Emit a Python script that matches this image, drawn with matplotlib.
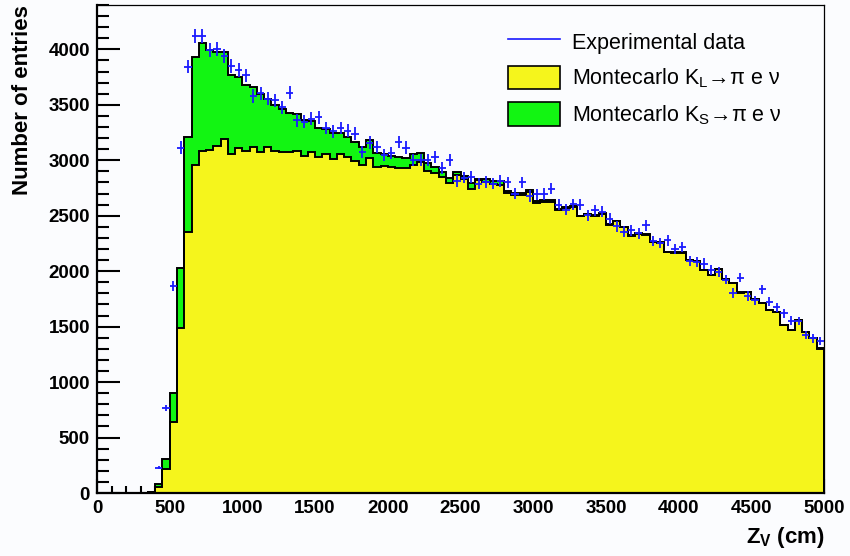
import numpy as np
import matplotlib
matplotlib.use("Agg")
import matplotlib.pyplot as plt
from matplotlib.lines import Line2D
from matplotlib.patches import Patch

plt.rcParams['font.family'] = ['Liberation Sans', 'DejaVu Sans']
plt.rcParams['mathtext.fontset'] = 'custom'
plt.rcParams['mathtext.rm'] = 'Liberation Sans'
plt.rcParams['mathtext.it'] = 'Liberation Sans:italic'
plt.rcParams['mathtext.bf'] = 'Liberation Sans:bold'

# ---- data (bins of 50 cm from 0 to 5000 cm) ----
bin_lo = 0
bin_hi = 5000
bin_width = 50

mc_KL = [0, 0, 0, 0, 0, 0, 0, 8, 51, 213,
         637, 1484, 2350, 2961, 3084, 3090, 3126, 3195, 3060, 3111,
         3084, 3117, 3078, 3120, 3084, 3075, 3072, 3087, 3040, 3078,
         3033, 3060, 3010, 3057, 3033, 2990, 2960, 3025, 2940, 2950,
         2940, 2930, 2928, 2960, 2980, 2900, 2883, 2853, 2793, 2865,
         2828, 2745, 2820, 2805, 2787, 2780, 2706, 2691, 2686, 2712,
         2619, 2625, 2625, 2552, 2570, 2576, 2494, 2512, 2498, 2519,
         2417, 2448, 2394, 2319, 2334, 2329, 2259, 2255, 2169, 2165,
         2166, 2101, 2091, 2008, 1966, 2020, 1931, 1892, 1805, 1813,
         1747, 1712, 1649, 1631, 1516, 1467, 1557, 1452, 1398, 1302]

mc_KS = [0, 0, 0, 0, 0, 0, 0, 4, 27, 90,
         261, 549, 860, 967, 974, 900, 846, 777, 706, 640,
         592, 547, 517, 435, 414, 385, 358, 333, 320, 274,
         257, 220, 240, 189, 177, 175, 160, 155, 130, 110,
         95, 100, 94, 95, 88, 73, 57, 40, 51, 33,
         32, 48, 15, 23, 28, 34, 14, 17, 17, 24,
         18, 15, 13, 13, 10, 9, 8, 8, 7, 7,
         7, 6, 6, 6, 6, 5, 5, 5, 5, 5,
         4, 4, 4, 4, 4, 4, 3, 3, 3, 3,
         3, 3, 3, 3, 2, 2, 2, 2, 2, 2]

data = [0, 0, 0, 0, 0, 0, 0, 0, 228, 768,
        1868, 3114, 3845, 4120, 4120, 3991, 4003, 3938, 3848, 3811,
        3765, 3580, 3604, 3556, 3541, 3478, 3610, 3360, 3348, 3375,
        3386, 3290, 3262, 3290, 3266, 3240, 3075, 3160, 3120, 3045,
        3066, 3165, 3114, 3000, 3006, 3000, 3027, 2930, 3006, 2812,
        2844, 2850, 2790, 2805, 2790, 2812, 2800, 2700, 2800, 2680,
        2692, 2697, 2745, 2600, 2556, 2604, 2601, 2505, 2550, 2535,
        2475, 2406, 2355, 2370, 2340, 2415, 2273, 2255, 2279, 2200,
        2219, 2093, 2084, 2069, 2009, 1994, 1925, 1805, 1943, 1775,
        1739, 1835, 1724, 1673, 1619, 1553, 1550, 1424, 1394, 1373]

legend_labels = ["Experimental data",
                 r"Montecarlo K$_\mathregular{L}$→π e ν",
                 r"Montecarlo K$_\mathregular{S}$→π e ν"]

# ---- figure ----
W, H = 850, 556
bg = '#fbfcfe'
fig = plt.figure(figsize=(W / 100, H / 100), dpi=100, facecolor=bg)
ax = fig.add_axes([97 / W, 63 / H, 727 / W, 488 / H])
ax.set_facecolor(bg)

edges = np.arange(bin_lo, bin_hi + bin_width, bin_width)
kl = np.array(mc_KL, float)
ks = np.array(mc_KS, float)
tot = kl + ks
d = np.array(data, float)

yellow = '#f5f51c'
green = '#12f512'

ax.stairs(tot, edges, fill=True, color=green, zorder=1)
ax.stairs(kl, edges, fill=True, color=yellow, zorder=2)
ax.stairs(tot, edges, color='black', lw=1.4, zorder=3)
ax.stairs(kl, edges, color='black', lw=1.4, zorder=3)

centers = edges[:-1] + bin_width / 2
m = d > 0
ax.errorbar(centers[m], d[m], xerr=bin_width / 2, yerr=np.sqrt(d[m]),
            fmt='none', ecolor='#1a1aff', elinewidth=1.3, capsize=0, zorder=4)

ax.set_xlim(0, 5000)
ax.set_ylim(0, 4400)
ax.set_xticks(np.arange(0, 5001, 500))
ax.set_xticks(np.arange(0, 5001, 100), minor=True)
ax.set_yticks(np.arange(0, 4001, 500))
ax.set_yticks(np.arange(0, 4401, 100), minor=True)

ax.tick_params(axis='y', which='major', direction='in', length=16.5, width=1.5,
               labelsize=13.5, pad=5)
ax.tick_params(axis='y', which='minor', direction='in', length=8.5, width=1.5)
ax.tick_params(axis='x', which='major', direction='in', length=10, width=1.5,
               labelsize=13.5, pad=5)
ax.tick_params(axis='x', which='minor', direction='in', length=5, width=1.5)
for lab in ax.get_xticklabels() + ax.get_yticklabels():
    lab.set_fontweight('bold')

for s in ['left', 'bottom']:
    ax.spines[s].set_linewidth(1.6)
for s in ['top', 'right']:
    ax.spines[s].set_linewidth(0.9)

fig.text(23 / W, 1 - 5 / H, 'Number of entries', rotation=90, ha='center', va='top',
         fontsize=16, fontweight='bold')
fig.text(825 / W, 1 - 537 / H, r'Z$_\mathbf{V}$ (cm)', ha='right', va='center',
         fontsize=16, fontweight='bold')

handles = [Line2D([], [], color='#1a1aff', lw=1.2),
           Patch(facecolor=yellow, edgecolor='black', lw=1.2),
           Patch(facecolor=green, edgecolor='black', lw=1.2)]
fs = 15.5
fs_px = fs * 100 / 72
leg = fig.legend(handles, legend_labels, loc='upper left',
                 bbox_to_anchor=(508 / W, 1 - 30 / H), frameon=False,
                 fontsize=fs, borderpad=0, borderaxespad=0,
                 handlelength=52 / fs_px, handleheight=28 / fs_px,
                 handletextpad=12 / fs_px, labelspacing=12 / fs_px)

fig.savefig('out.png', dpi=100, facecolor=bg)
